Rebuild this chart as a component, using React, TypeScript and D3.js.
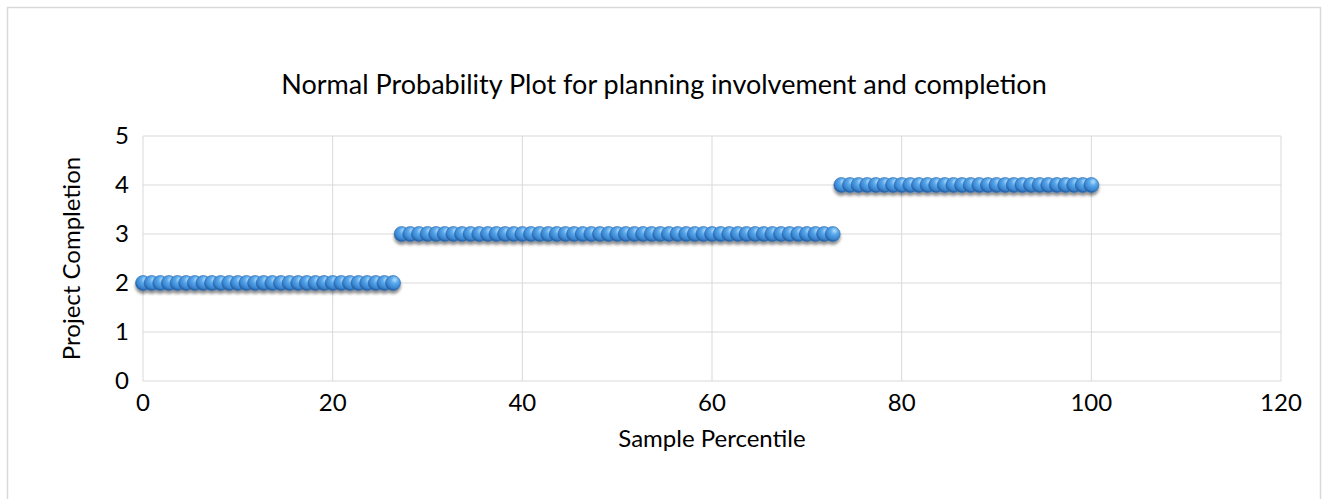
import React from "react";
import * as d3 from "d3";

const TITLE = "Normal Probability Plot for planning involvement and completion";
const X_TITLE = "Sample Percentile";
const Y_TITLE = "Project Completion";
const X_TICKS = [0, 20, 40, 60, 80, 100, 120];
const Y_TICKS = [0, 1, 2, 3, 4, 5];

// Sorted project completion scores (one per respondent)
const completion = [
  2, 2, 2, 2, 2, 2, 2, 2, 2, 2, 2, 2, 2, 2, 2, 2, 2, 2, 2, 2, 2, 2, 2, 2, 2, 2, 2, 2, 2, 2,
  3, 3, 3, 3, 3, 3, 3, 3, 3, 3, 3, 3, 3, 3, 3, 3, 3, 3, 3, 3, 3, 3, 3, 3, 3, 3, 3, 3, 3, 3,
  3, 3, 3, 3, 3, 3, 3, 3, 3, 3, 3, 3, 3, 3, 3, 3, 3, 3, 3, 3, 3,
  4, 4, 4, 4, 4, 4, 4, 4, 4, 4, 4, 4, 4, 4, 4, 4, 4, 4, 4, 4, 4, 4, 4, 4, 4, 4, 4, 4, 4, 4,
];

const W = 1324;
const H = 499;
const M = { left: 143, right: 1281, top: 136, bottom: 381 };
const FONT = "Lato, 'Open Sans', sans-serif";

export default function App() {
  const x = d3.scaleLinear().domain([0, 120]).range([M.left, M.right]);
  const y = d3.scaleLinear().domain([0, 5]).range([M.bottom, M.top]);
  const n = completion.length;
  const pts = completion.map((v, i) => ({ p: (i / (n - 1)) * 100, v }));

  return (
    <svg
      width={W}
      height={H}
      style={{ position: "absolute", left: 0, top: 0, background: "#fff" }}
    >
      <defs>
        <radialGradient id="ball" cx="0.6" cy="0.32" r="0.7" fx="0.62" fy="0.28">
          <stop offset="0" stopColor="#b6e0ff" />
          <stop offset="0.35" stopColor="#5aa9ec" />
          <stop offset="0.75" stopColor="#3a86d2" />
          <stop offset="1" stopColor="#22599a" />
        </radialGradient>
        <filter id="shadow" x="-50%" y="-50%" width="200%" height="220%">
          <feGaussianBlur in="SourceAlpha" stdDeviation="1.6" />
          <feOffset dx="0" dy="3" result="b" />
          <feComponentTransfer>
            <feFuncA type="linear" slope="0.45" />
          </feComponentTransfer>
          <feMerge>
            <feMergeNode />
            <feMergeNode in="SourceGraphic" />
          </feMerge>
        </filter>
      </defs>
      <rect x={7.5} y={7.5} width={1313} height={510} fill="#fff" stroke="#d9d9d9" strokeWidth={1.5} />
      <text
        x={664}
        y={94}
        textAnchor="middle"
        fontFamily={FONT}
        fontSize={27}
        fill="#000"
      >
        {TITLE}
      </text>
      {X_TICKS.map((t) => (
        <line key={"gx" + t} x1={x(t)} x2={x(t)} y1={M.top} y2={M.bottom} stroke="#d9d9d9" strokeWidth={1} />
      ))}
      {Y_TICKS.map((t) => (
        <line key={"gy" + t} x1={M.left} x2={M.right} y1={y(t)} y2={y(t)} stroke="#d9d9d9" strokeWidth={1} />
      ))}
      {X_TICKS.map((t) => (
        <text key={"tx" + t} x={x(t)} y={M.bottom + 30} textAnchor="middle" fontFamily={FONT} fontSize={24} fill="#000">
          {t}
        </text>
      ))}
      {Y_TICKS.map((t) => (
        <text key={"ty" + t} x={M.left - 14} y={y(t) + 8} textAnchor="end" fontFamily={FONT} fontSize={24} fill="#000">
          {t}
        </text>
      ))}
      <text x={(M.left + M.right) / 2} y={M.bottom + 66} textAnchor="middle" fontFamily={FONT} fontSize={24} fill="#000">
        {X_TITLE}
      </text>
      <text
        transform={`translate(80,${(M.top + M.bottom) / 2}) rotate(-90)`}
        textAnchor="middle"
        fontFamily={FONT}
        fontSize={24}
        fill="#000"
      >
        {Y_TITLE}
      </text>
      <g filter="url(#shadow)">
        {pts.map((d, i) => (
          <circle key={i} cx={x(d.p)} cy={y(d.v)} r={7.5} fill="url(#ball)" stroke="#2a64a8" strokeWidth={0.6} />
        ))}
      </g>
    </svg>
  );
}
